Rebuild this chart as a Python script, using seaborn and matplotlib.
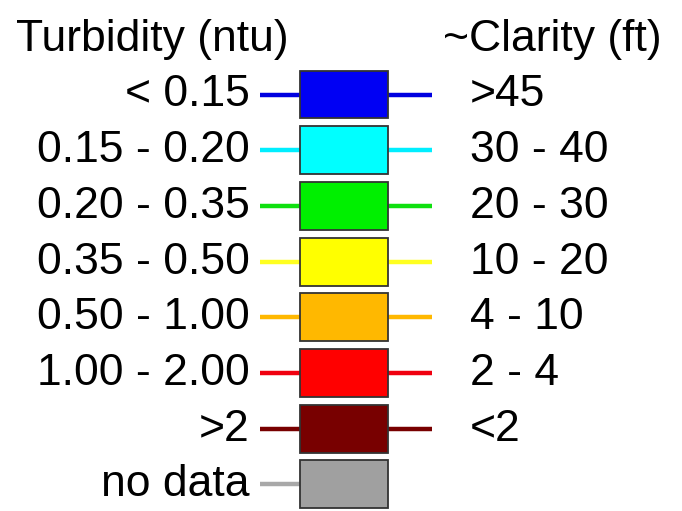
import pandas as pd
import matplotlib
matplotlib.use('Agg')
import matplotlib.pyplot as plt
import seaborn as sns

# legend rows: turbidity class, approx. clarity, colour
turbidity = ['< 0.15', '0.15 - 0.20', '0.20 - 0.35', '0.35 - 0.50',
             '0.50 - 1.00', '1.00 - 2.00', '>2', 'no data']
clarity = ['>45', '30 - 40', '20 - 30', '10 - 20', '4 - 10', '2 - 4', '<2', '']
colors = ['#0000F4', '#00FFFF', '#00F000', '#FFFF00',
          '#FFB800', '#FF0000', '#780000', '#A0A0A0']
line_colors = ['#0000E0', '#00EEFF', '#10E010', '#FFFF20',
               '#FFB800', '#F00010', '#780000', '#A8A8A8']

sns.set_theme(style='white')
plt.rcParams['font.family'] = ['Liberation Sans', 'DejaVu Sans']

df = pd.DataFrame({'turbidity': turbidity, 'box': [1] * len(turbidity)})

fig = plt.figure(figsize=(6.82, 5.11), dpi=100)
ax = fig.add_axes([0, 0, 1, 1])

sns.barplot(data=df, x='box', y='turbidity', hue='turbidity', order=turbidity,
            palette=dict(zip(turbidity, colors)), legend=False, saturation=1,
            width=0.86, edgecolor='#333333', linewidth=1.3, ax=ax, zorder=3)

fs = 32
for i, (t, c, lc) in enumerate(zip(turbidity, clarity, line_colors)):
    ax.plot([-0.455, 0], [i, i], color=lc, lw=3.2, solid_capstyle='butt', zorder=2)
    ax.text(-0.57, i + 0.215, t, ha='right', va='baseline', fontsize=fs, color='black')
    if c:
        ax.plot([1, 1.5], [i, i], color=lc, lw=3.2, solid_capstyle='butt', zorder=2)
        ax.text(1.93, i + 0.215, c, ha='left', va='baseline', fontsize=fs, color='black')

ax.text(-3.23, -0.79, 'Turbidity (ntu)', ha='left', va='baseline', fontsize=fs, color='black')
ax.text(1.62, -0.79, '~Clarity (ft)', ha='left', va='baseline', fontsize=fs, color='black')

ax.set_xlim(-300 / 88, 382 / 88)
ax.set_ylim(7.478, -1.697)
ax.axis('off')

fig.savefig('out.png', dpi=100, facecolor='white')
